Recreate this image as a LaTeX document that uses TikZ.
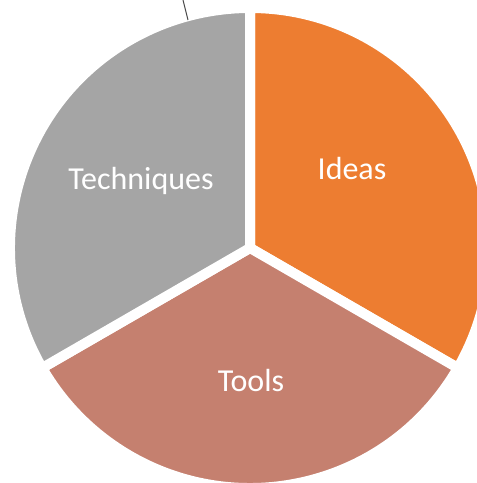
\documentclass[tikz,border=0pt]{standalone}
\usepackage{fontspec}
\setmainfont{Carlito}

\definecolor{ideasorange}{HTML}{ED7D31}
\definecolor{techgray}{HTML}{A5A5A5}
\definecolor{toolsrose}{HTML}{C5806F}

\begin{document}
\begin{tikzpicture}[
  x=0.01cm,
  y=0.01cm,
  slice/.style={
    draw=white,
    line width=0.1cm,
    line join=miter
  },
  slicelabel/.style={
    text=white,
    anchor=base,
    inner sep=0pt,
    font=\fontsize{9.1}{11}\selectfont
  }]
  \useasboundingbox (0,0) rectangle (476,483);
  \coordinate (centre) at (250,235);

  % three equal wedges, the white borders make the gaps
  \filldraw[slice,fill=ideasorange] (centre) -- ++(90:240)
    arc[start angle=90, end angle=-30, radius=240] -- cycle;
  \filldraw[slice,fill=toolsrose] (centre) -- ++(-30:240)
    arc[start angle=-30, end angle=-150, radius=240] -- cycle;
  \filldraw[slice,fill=techgray] (centre) -- ++(210:240)
    arc[start angle=210, end angle=90, radius=240] -- cycle;

  \node[slicelabel] (ideas) at (352,303) {Ideas};
  \node[slicelabel] (tools) at (251,91) {Tools};
  \node[slicelabel] (techniques) at (141,293) {Techniques};

  % leader line running off the top
  \coordinate (leadtop) at (183,483);
  \coordinate (leadend) at (188,463);
  \draw[black!70,line width=0.01cm] (leadtop) -- (leadend);
\end{tikzpicture}
\end{document}
